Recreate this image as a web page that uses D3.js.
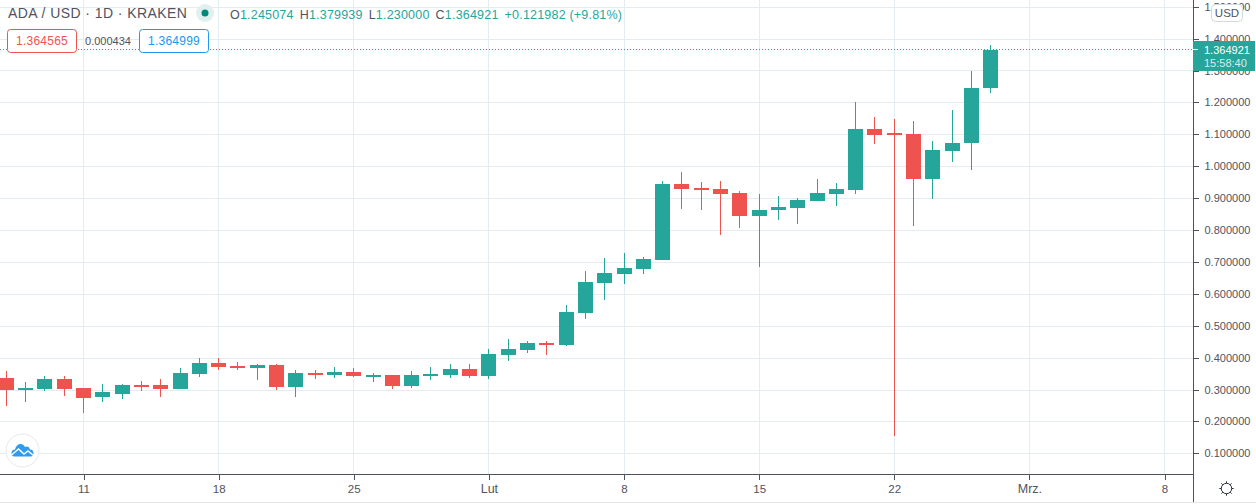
<!DOCTYPE html>
<html><head><meta charset="utf-8">
<script src="https://d3js.org/d3.v7.min.js"></script>
<style>
html,body{margin:0;padding:0;background:#fff;overflow:hidden}
svg{display:block}
text{font-family:"Liberation Sans",Arial,sans-serif}
</style></head><body>
<svg id="c" width="1256" height="504"></svg>
<script>
const firstDay = "2021-01-07";
const opens  = [.336,.298,.302,.333,.305,.277,.286,.314,.314,.302,.349,.383,.374,.367,.377,.308,.352,.345,.355,.342,.345,.311,.345,.345,.364,.342,.408,.424,.446,.440,.540,.634,.662,.678,.706,.944,.932,.929,.916,.844,.863,.869,.891,.913,.925,1.117,1.104,1.101,.960,1.048,1.073,1.245];
const highs  = [.358,.324,.342,.342,.305,.317,.317,.327,.333,.367,.399,.399,.386,.380,.380,.361,.361,.371,.367,.352,.345,.358,.371,.380,.380,.427,.458,.452,.452,.565,.671,.712,.728,.715,.954,.982,.950,.954,.922,.913,.907,.900,.960,.947,1.201,1.154,1.148,1.142,1.079,1.176,1.298,1.380];
const lows   = [.249,.261,.295,.280,.226,.261,.270,.295,.277,.302,.339,.361,.361,.330,.298,.277,.333,.336,.339,.324,.302,.305,.330,.336,.336,.333,.389,.414,.408,.436,.521,.581,.631,.662,.706,.866,.863,.784,.806,.684,.831,.819,.891,.875,.913,1.070,.154,.813,.897,1.013,.988,1.229];
const closes = [.298,.305,.333,.302,.273,.292,.314,.311,.302,.352,.383,.371,.367,.377,.308,.352,.345,.355,.342,.345,.311,.345,.349,.364,.342,.411,.427,.446,.440,.543,.637,.665,.681,.709,.944,.929,.925,.913,.844,.863,.872,.894,.916,.929,1.117,1.098,1.098,.960,1.051,1.073,1.245,1.365];
const priceTicks = [.1,.2,.3,.4,.5,.6,.7,.8,.9,1.0,1.1,1.2,1.3,1.4,1.5];
const timeTickDates = ["2021-01-11","2021-01-18","2021-01-25","2021-02-01","2021-02-08","2021-02-15","2021-02-22","2021-03-01","2021-03-08"];
const timeTickLabels = ["11","18","25","Lut","8","15","22","Mrz.","8"];
const monthLabels = ["Lut","Mrz."];
const legendValues = [["O","1.245074"],["H","1.379939"],["L","1.230000"],["C","1.364921"]];
const legendChange = "+0.121982 (+9.81%)";
const sellPrice = "1.364565", buyPrice = "1.364999", spread = "0.000434";
const lastPriceText = "1.364921", countdown = "15:58:40";

const UP="#26a69a", DOWN="#ef5350", TXT="#50535e", AXIS="#50535e";
const svg=d3.select("#c");
const day=d3.utcParse("%Y-%m-%d");
const plotW=1193, plotH=474;
const x=d3.scaleUtc().domain([day("2021-01-11"),day("2021-03-08")]).range([83.5,1164.5]);
const y=d3.scaleLinear().domain([.1,1.4]).range([453.3,38.6]);
const px=d=>Math.floor(x(d))+.5;
const py=v=>Math.round(y(v));

// grid
const grid=svg.append("g").attr("shape-rendering","crispEdges");
grid.selectAll(".h").data(priceTicks).join("line")
  .attr("x1",0).attr("x2",plotW).attr("y1",d=>py(d)+.5).attr("y2",d=>py(d)+.5).attr("stroke","#e6ebef");
grid.selectAll(".v").data(timeTickDates).join("line")
  .attr("x1",d=>px(day(d))).attr("x2",d=>px(day(d))).attr("y1",0).attr("y2",plotH).attr("stroke","#e1ecf3");

// candles
const candles=opens.map((o,i)=>({date:d3.utcDay.offset(day(firstDay),i),o,h:highs[i],l:lows[i],c:closes[i]}));
const cg=svg.append("g").attr("shape-rendering","crispEdges");
const col=d=>d.c>=d.o?UP:DOWN;
cg.selectAll(".w").data(candles).join("line")
  .attr("x1",d=>px(d.date)).attr("x2",d=>px(d.date))
  .attr("y1",d=>py(d.h)).attr("y2",d=>py(d.l)).attr("stroke",col);
cg.selectAll(".b").data(candles).join("rect")
  .attr("x",d=>px(d.date)-7.5).attr("width",15)
  .attr("y",d=>py(Math.max(d.o,d.c)))
  .attr("height",d=>Math.max(2,py(Math.min(d.o,d.c))-py(Math.max(d.o,d.c))))
  .attr("fill",col);

// last price line
svg.append("line").attr("x1",0).attr("x2",plotW).attr("y1",49.5).attr("y2",49.5)
  .attr("stroke",UP).attr("stroke-dasharray","1 2").attr("shape-rendering","crispEdges");

// price axis
const yAxis=d3.axisRight(y).tickValues(priceTicks).tickSize(5).tickPadding(6).tickFormat(d3.format(".6f"));
const ya=svg.append("g").attr("transform",`translate(${plotW+.5},0)`).call(yAxis);
ya.select(".domain").remove();
ya.selectAll("line").attr("stroke",AXIS).attr("shape-rendering","crispEdges");
ya.selectAll("text").attr("fill",TXT).attr("font-size",11).attr("font-family","Liberation Sans");
svg.append("line").attr("x1",plotW+.5).attr("x2",plotW+.5).attr("y1",0).attr("y2",502).attr("stroke",AXIS).attr("shape-rendering","crispEdges");

// time axis
const xAxis=d3.axisBottom(x).tickValues(timeTickDates.map(day)).tickSize(5).tickPadding(5)
  .tickFormat((d,i)=>timeTickLabels[i]);
const xa=svg.append("g").attr("transform",`translate(0,${plotH+.5})`).call(xAxis);
xa.select(".domain").remove();
xa.selectAll("line").attr("stroke",AXIS).attr("shape-rendering","crispEdges");
xa.selectAll("text").attr("fill",TXT).attr("font-family","Liberation Sans")
  .attr("font-size",(d,i)=>monthLabels.includes(timeTickLabels[i])?12.5:11.5);
svg.append("line").attr("x1",0).attr("x2",plotW).attr("y1",plotH+.5).attr("y2",plotH+.5).attr("stroke",AXIS).attr("shape-rendering","crispEdges");
svg.append("line").attr("x1",0).attr("x2",1256).attr("y1",502.5).attr("y2",502.5).attr("stroke","#e6e6e6").attr("shape-rendering","crispEdges");

// last price label
svg.append("rect").attr("x",plotW).attr("y",41).attr("width",62).attr("height",30).attr("fill",UP);
svg.append("line").attr("x1",plotW).attr("x2",plotW+5).attr("y1",49.5).attr("y2",49.5).attr("stroke","#fff").attr("shape-rendering","crispEdges");
svg.append("text").attr("x",1204).attr("y",54).attr("fill","#fff").attr("font-size",11).text(lastPriceText);
svg.append("text").attr("x",1204).attr("y",67).attr("fill","#d4eeeb").attr("font-size",11).text(countdown);

// USD button
svg.append("rect").attr("x",1211.5).attr("y",4.5).attr("width",31).attr("height",17).attr("rx",4).attr("fill","#fff").attr("stroke","#d6d8e0");
svg.append("text").attr("x",1227).attr("y",17).attr("text-anchor","middle").attr("fill",TXT).attr("font-size",11.5).text("USD");

// legend
svg.append("text").attr("x",8).attr("y",18).attr("fill",TXT).attr("font-size",14).attr("letter-spacing",".42").text("ADA / USD · 1D · KRAKEN");
svg.append("circle").attr("cx",205).attr("cy",13).attr("r",9).attr("fill","#dff0ee");
svg.append("circle").attr("cx",205).attr("cy",13).attr("r",3.5).attr("fill","#00897b");
const lg=svg.append("text").attr("x",230).attr("y",19).attr("font-size",12.5).attr("letter-spacing",".2");
legendValues.forEach(([k,v],i)=>{
  lg.append("tspan").attr("fill",TXT).attr("dx",i?6:0).text(k);
  lg.append("tspan").attr("fill",UP).text(v);
});
lg.append("tspan").attr("fill",UP).attr("dx",6).text(legendChange);

svg.append("rect").attr("x",7.5).attr("y",29.5).attr("width",69).attr("height",23).attr("rx",3).attr("fill","#fff").attr("stroke",DOWN);
svg.append("text").attr("x",42).attr("y",45).attr("text-anchor","middle").attr("fill",DOWN).attr("font-size",12).attr("letter-spacing",".25").text(sellPrice);
svg.append("text").attr("x",108).attr("y",45).attr("text-anchor","middle").attr("fill",TXT).attr("font-size",11).text(spread);
svg.append("rect").attr("x",139.5).attr("y",29.5).attr("width",69).attr("height",23).attr("rx",3).attr("fill","#fff").attr("stroke","#2196f3");
svg.append("text").attr("x",174).attr("y",45).attr("text-anchor","middle").attr("fill","#2196f3").attr("font-size",12).attr("letter-spacing",".25").text(buyPrice);

// logo
const logo=svg.append("g").attr("transform","translate(22.5,450.5)");
logo.append("circle").attr("r",16.5).attr("fill","#fff").attr("stroke","#e8e8e8");
logo.append("path").attr("fill","#2e9bf0").attr("d","M-11,3 Q-11,-1 -7.5,-1 Q-6,-6.5 -2,-6.5 Q1,-6.5 2.5,-3.5 Q6.5,-5 7.5,-1 Q11,-1 11,3 Q11,6 8,6 L-8,6 Q-11,6 -11,3 Z");
logo.append("path").attr("fill","none").attr("stroke","#fff").attr("stroke-width",1.4).attr("d","M-11,4.5 L-4,-1.5 L1.5,3.5 L5.5,0.5 L11,5");

// settings gear
const gear=svg.append("g").attr("transform","translate(1226.5,488.5)").attr("stroke","#2a2e39").attr("fill","none");
gear.append("circle").attr("r",5.2);
d3.range(8).forEach(i=>{
  const a=i*Math.PI/4;
  gear.append("line").attr("x1",5.2*Math.cos(a)).attr("y1",5.2*Math.sin(a)).attr("x2",7.2*Math.cos(a)).attr("y2",7.2*Math.sin(a));
});
</script></body></html>
